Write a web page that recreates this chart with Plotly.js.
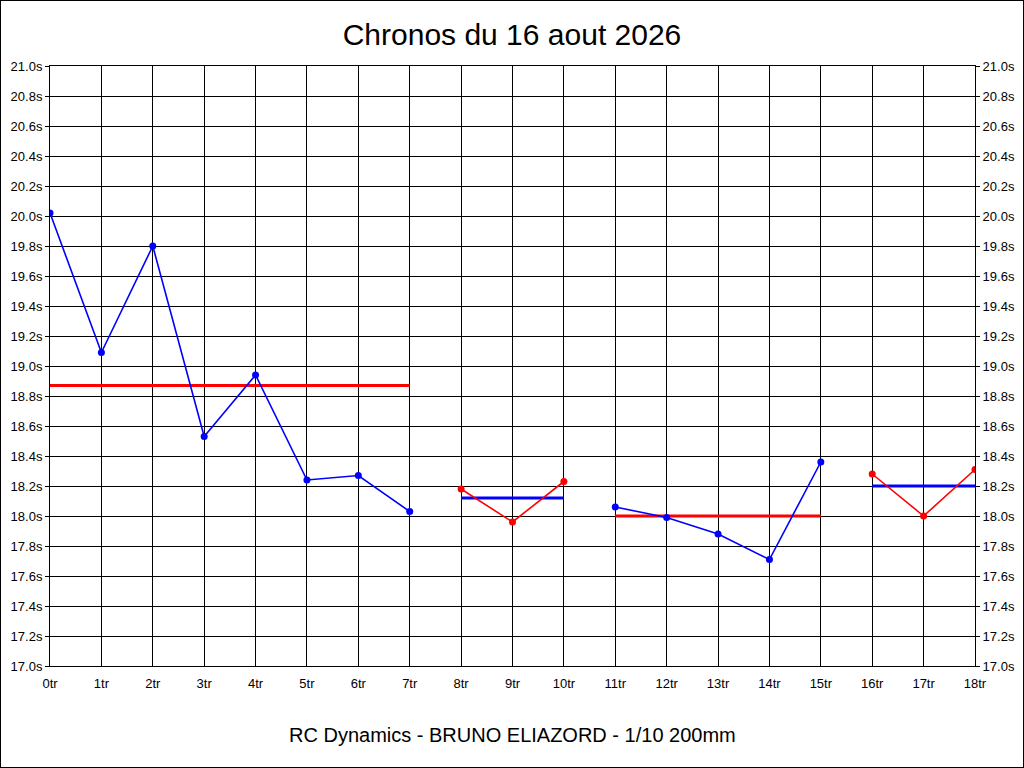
<!DOCTYPE html>
<html>
<head>
<meta charset="utf-8">
<script src="https://cdn.plot.ly/plotly-3.0.1.min.js"></script>
<style>
  body { margin: 0; background: #fff; }
  #chart { width: 1022px; height: 766px; border: 1px solid #000; }
</style>
</head>
<body>
<div id="chart"></div>
<script>
// lap times, one array per run
const lapsA = [0, 1, 2, 3, 4, 5, 6, 7];
const timesA = [20.02, 19.09, 19.80, 18.53, 18.94, 18.24, 18.27, 18.03];
const lapsB = [8, 9, 10];
const timesB = [18.18, 17.96, 18.23];
const lapsC = [11, 12, 13, 14, 15];
const timesC = [18.06, 17.99, 17.88, 17.71, 18.36];
const lapsD = [16, 17, 18];
const timesD = [18.28, 18.00, 18.31];

// average per run
const averages = [18.87, 18.12, 18.00, 18.20];

const runs = [
    { laps: lapsA, times: timesA, color: '#0000ff', avgColor: '#ff0000' },
    { laps: lapsB, times: timesB, color: '#ff0000', avgColor: '#0000ff' },
    { laps: lapsC, times: timesC, color: '#0000ff', avgColor: '#ff0000' },
    { laps: lapsD, times: timesD, color: '#ff0000', avgColor: '#0000ff' }
];

const traces = [];
runs.forEach((run, i) => {
    const first = run.laps[0];
    const last = run.laps[run.laps.length - 1];
    traces.push({
        x: [first, last],
        y: [averages[i], averages[i]],
        type: 'scatter',
        mode: 'lines',
        line: { color: run.avgColor, width: 3 },
        hoverinfo: 'skip'
    });
    traces.push({
        x: run.laps,
        y: run.times,
        type: 'scatter',
        mode: 'lines+markers',
        line: { color: run.color, width: 1.6 },
        marker: { color: run.color, size: 7 }
    });
});

// invisible trace so the right hand axis gets drawn
traces.push({
    x: lapsA,
    y: timesA,
    yaxis: 'y2',
    type: 'scatter',
    mode: 'lines',
    line: { color: 'rgba(0,0,0,0)' },
    hoverinfo: 'skip'
});

const tickFont = { family: 'Liberation Sans, Arial, sans-serif', size: 13, color: '#000' };

const yCommon = {
    range: [17.0, 21.0],
    dtick: 0.2,
    tick0: 17.0,
    tickformat: '.1f',
    ticksuffix: 's',
    ticks: 'outside',
    ticklen: 4,
    tickcolor: '#000',
    tickfont: tickFont,
    showline: true,
    linecolor: '#000',
    linewidth: 1,
    zeroline: false,
    fixedrange: true
};

const layout = {
    width: 1022,
    height: 766,
    paper_bgcolor: '#fff',
    plot_bgcolor: '#fff',
    showlegend: false,
    margin: { l: 49, r: 48, t: 65, b: 101 },
    title: {
        text: 'Chronos du 16 aout 2026',
        font: { family: 'Liberation Sans, Arial, sans-serif', size: 30, color: '#000' },
        x: 0.5,
        xanchor: 'center',
        y: 1 - 33 / 766,
        yanchor: 'middle'
    },
    xaxis: {
        range: [0, 18],
        dtick: 1,
        tick0: 0,
        ticksuffix: 'tr',
        ticks: 'outside',
        ticklen: 5,
        tickcolor: 'rgba(0,0,0,0)',
        tickfont: tickFont,
        showgrid: true,
        gridcolor: '#000',
        gridwidth: 1,
        showline: true,
        linecolor: '#000',
        mirror: true,
        zeroline: false,
        fixedrange: true
    },
    yaxis: Object.assign({}, yCommon, {
        showgrid: true,
        gridcolor: '#000',
        gridwidth: 1
    }),
    yaxis2: Object.assign({}, yCommon, {
        overlaying: 'y',
        side: 'right',
        showgrid: false
    }),
    annotations: [{
        text: 'RC Dynamics - BRUNO ELIAZORD - 1/10 200mm',
        xref: 'paper',
        yref: 'paper',
        x: 0.5,
        y: -(735 - 666) / 600,
        xanchor: 'center',
        yanchor: 'middle',
        showarrow: false,
        font: { family: 'Liberation Sans, Arial, sans-serif', size: 20, color: '#000' }
    }]
};

Plotly.newPlot('chart', traces, layout, { staticPlot: true, displayModeBar: false });
</script>
</body>
</html>
